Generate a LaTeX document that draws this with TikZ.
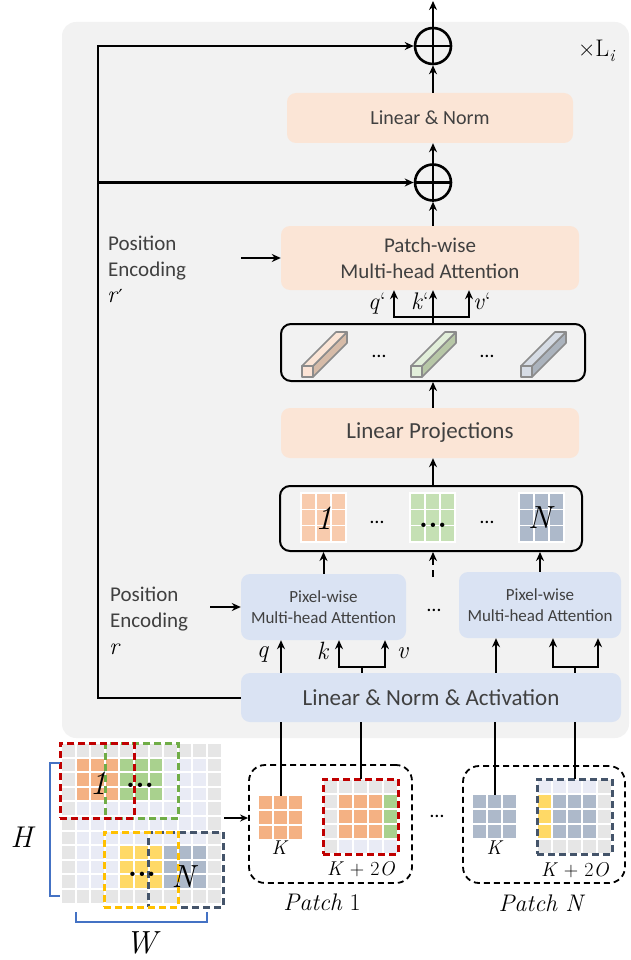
\documentclass[tikz,border=0pt]{standalone}
\usepackage{fontspec}
\newfontfamily\calibri{Carlito}
\newfontfamily\dejavu{DejaVu Serif}
\usetikzlibrary{arrows.meta,calc}
\definecolor{bgc}{HTML}{F2F2F2}
\definecolor{peachc}{HTML}{FBE5D6}
\definecolor{bluec}{HTML}{DAE3F3}
\definecolor{txtc}{HTML}{404040}
\definecolor{orgc}{HTML}{F4B183}
\definecolor{orgl}{HTML}{F8CBAD}
\definecolor{grnc}{HTML}{A9D18E}
\definecolor{grnl}{HTML}{C5E0B4}
\definecolor{bgrc}{HTML}{ADB9CA}
\definecolor{ylwc}{HTML}{FFD966}
\definecolor{gryc}{HTML}{E6E6E6}
\definecolor{lavc}{HTML}{E9EBF5}
\definecolor{redc}{HTML}{C00000}
\definecolor{grnd}{HTML}{70AD47}
\definecolor{ylwd}{HTML}{FFC000}
\definecolor{dbc}{HTML}{44546A}
\definecolor{brkc}{HTML}{4472C4}
\definecolor{tubeo}{HTML}{8C8C8C}
\definecolor{tpf}{HTML}{FCE4D6}
\definecolor{tps}{HTML}{D6BBA8}
\definecolor{tgf}{HTML}{E2EFDA}
\definecolor{tgs}{HTML}{B7C7A7}
\definecolor{tbf}{HTML}{D6DCE5}
\definecolor{tbs}{HTML}{ABB3BD}
\newcommand\fillcells[9]{%
  \foreach \cc in {#5,...,#6}{\foreach \rr in {#7,...,#8}{%
    \fill[#9] ({#1+\cc*#3},{#2+\rr*#3}) rectangle ++(#4,#4);}}}
\newcommand\smallgrid[3]{%
  \fill[white] (#1,#2) rectangle ++(47,51);
  \foreach \cc in {0,1,2}{\foreach \rr in {0,1,2}{%
    \fill[#3] ({#1+2+\cc*15},{#2+2+\rr*16}) rectangle ++(13,15);}}}
\newcommand\tube[4]{%
  \filldraw[fill=#4,draw=tubeo,line width=1.6pt,line join=round] ({#1+11},377) -- ({#1+45},343) -- ({#1+45},332) -- ({#1+11},366) -- cycle;
  \filldraw[fill=#3,draw=tubeo,line width=1.6pt,line join=round] (#1,366) -- ({#1+11},366) -- ({#1+45},332) -- ({#1+34},332) -- cycle;
  \filldraw[fill=#2,draw=tubeo,line width=1.6pt,line join=round] (#1,366) rectangle ({#1+11},377);}
\begin{document}
\begin{tikzpicture}[x=1pt,y=-1pt,
  pbox/.style={fill=peachc,text=txtc,rounded corners=9pt,inner sep=0pt,align=center},
  bbox/.style={fill=bluec,text=txtc,rounded corners=9pt,inner sep=0pt,align=center},
  frame/.style={draw=black,line width=2pt,rounded corners=10pt,inner sep=0pt},
  arr/.style={line width=2pt,-{Stealth[length=9pt,width=8pt]}},
  ln/.style={line width=2pt},
  oplus/.style={circle,draw,line width=2.6pt,minimum size=36pt,inner sep=0pt},
  pframe/.style={draw=black,line width=1.8pt,dash pattern=on 6pt off 4pt,rounded corners=16pt,inner sep=0pt},
  ghost/.style={inner sep=0pt,outer sep=0pt},
  dframe/.style={inner sep=0pt,outer sep=0pt,line width=3pt,dash pattern=on 7pt off 4pt},
  lab/.style={inner sep=0pt,anchor=base},
  petext/.style={inner sep=0pt,anchor=base west,text=txtc,font=\calibri\fontsize{21}{26}\selectfont},
  mlab/.style={inner sep=0pt,anchor=base west,font=\fontsize{24}{28}\selectfont},
]
\useasboundingbox (0,0) rectangle (630,960);
% background
\node[fill=bgc,rounded corners=14pt,minimum width=567pt,minimum height=716pt,inner sep=0pt] (bg) at (345.5,380) {};
\node[lab,anchor=base west,font=\fontsize{24}{28}\selectfont] (li) at (578,57) {×L\raisebox{-5pt}{\fontsize{17}{20}\selectfont\textit{i}}};
% oplus nodes
\node[oplus] (c1) at (433,46) {};
\node[oplus] (c2) at (433,182.5) {};
\draw[line width=2.6pt] (c1.north) -- (c1.south) (c1.west) -- (c1.east);
\draw[line width=2.6pt] (c2.north) -- (c2.south) (c2.west) -- (c2.east);
% boxes
\node[pbox,minimum width=286pt,minimum height=50pt,font=\calibri\fontsize{20}{24}\selectfont] (LN) at (430,118) {Linear \& Norm};
\node[pbox,minimum width=298pt,minimum height=64pt,font=\calibri\fontsize{21}{26}\selectfont] (PMHA) at (430,258) {Patch-wise\\Multi-head Attention};
\node[frame,minimum width=304pt,minimum height=57pt] (tube) at (433,352.5) {};
\node[pbox,minimum width=298pt,minimum height=50pt,font=\calibri\fontsize{23}{27}\selectfont] (LP) at (430,433) {Linear Projections};
\node[frame,minimum width=302pt,minimum height=65pt] (Num) at (431,518.5) {};
\node[bbox,minimum width=165pt,minimum height=66pt,font=\calibri\fontsize{17}{21}\selectfont] (PX1) at (323.5,607) {Pixel-wise\\Multi-head Attention};
\node[bbox,minimum width=162pt,minimum height=66pt,font=\calibri\fontsize{17}{21}\selectfont] (PX2) at (540,605) {Pixel-wise\\Multi-head Attention};
\node[bbox,minimum width=380pt,minimum height=49pt,font=\calibri\fontsize{23}{27}\selectfont] (LNA) at (431,697.5) {Linear \& Norm \& Activation};
% tubes
\tube{302}{tpf}{peachc}{tps}
\tube{411}{tgf}{tgf}{tgs}
\tube{521}{tbf}{tbf}{tbs}
\node[lab,font=\calibri\fontsize{20}{24}\selectfont] (td1) at (379,357) {…};
\node[lab,font=\calibri\fontsize{20}{24}\selectfont] (td2) at (487,357) {…};
% small grids in Num box
\smallgrid{300}{492}{orgl}
\smallgrid{409}{492}{grnl}
\smallgrid{518}{492}{bgrc}
\node[ghost,font=\fontsize{34}{38}\selectfont] (g1) at (323.5,518) {\textit{1}};
\node[lab,font=\fontsize{30}{34}\selectfont\bfseries] (g2) at (433,527) {...};
\node[ghost,font=\fontsize{32}{36}\selectfont] (g3) at (541.5,518) {\textit{N}};
\node[lab,font=\calibri\fontsize{20}{24}\selectfont] (nd1) at (377,523) {…};
\node[lab,font=\calibri\fontsize{20}{24}\selectfont] (nd2) at (487,523) {…};
\node[lab,font=\calibri\fontsize{20}{24}\selectfont] (pd) at (434,611) {…};
% position encodings
\node[petext] (pe1a) at (108,250) {Position};
\node[petext] (pe1b) at (108,276) {Encoding};
\node[mlab] (pe1c) at (107,302) {\textit{r}{\dejavu\fontsize{18}{20}\selectfont ′}};
\node[petext] (pe2a) at (110,601) {Position};
\node[petext] (pe2b) at (110,627) {Encoding};
\node[mlab] (pe2c) at (109,654) {\textit{r}};
\coordinate (pa1) at (241,258);
\coordinate (pa2) at (210,607);
\draw[arr] (pa1) -- (pa1 -| PMHA.west);
\draw[arr] (pa2) -- (pa2 -| PX1.west);
% main column arrows
\coordinate (out) at (433,1);
\draw[arr] (c1.north) -- (out);
\draw[arr] (LN.north -| c1) -- (c1.south);
\draw[arr] (c2.north) -- (LN.south -| c2);
\draw[arr] (PMHA.north -| c2) -- (c2.south);
\draw[arr] (LP.north -| c2) -- (tube.south -| c2);
\draw[arr] (Num.north -| c2) -- (LP.south -| c2);
% skip connection
\coordinate (sk) at (98,0);
\draw[arr] (LNA.west) -| (sk |- c1) -- (c1.west);
\draw[arr] (sk |- c2) -- (c2.west);
% q' k' v'
\coordinate (yfp) at (0,317);
\coordinate (xqp) at (394,0);
\coordinate (xvp) at (469,0);
\draw[ln] (tube.north -| c2) -- (c2 |- yfp);
\draw[arr] (c2 |- yfp) -- (c2 |- PMHA.south);
\draw[arr] (c2 |- yfp) -- (xqp |- yfp) -- (xqp |- PMHA.south);
\draw[arr] (c2 |- yfp) -- (xvp |- yfp) -- (xvp |- PMHA.south);
\node[lab,font=\fontsize{24}{26}\selectfont] (lq) at (377,309) {\textit{q}‘};
\node[lab,font=\fontsize{24}{26}\selectfont] (lk) at (420,309) {\textit{k}‘};
\node[lab,font=\fontsize{24}{26}\selectfont] (lv) at (482,309) {\textit{v}‘};
% into Num box
\draw[arr] (PX1.north) -- (Num.south -| PX1.north);
\draw[arr] (PX2.north) -- (Num.south -| PX2.north);
\coordinate (dd) at (433,577);
\draw[arr,dash pattern=on 7pt off 5pt] (dd) -- (dd |- Num.south);
% q k v lower
\coordinate (yf) at (0,667);
\coordinate (xq) at (281,0);
\coordinate (xf1) at (362,0);
\coordinate (xk) at (339,0);
\coordinate (xv) at (385,0);
\coordinate (xr1) at (496,0);
\coordinate (xf2) at (575,0);
\coordinate (xk2) at (553,0);
\coordinate (xv2) at (598,0);
\draw[arr] (LNA.north -| xq) -- (PX1.south -| xq);
\draw[ln] (LNA.north -| xf1) -- (xf1 |- yf);
\draw[arr] (xf1 |- yf) -- (xk |- yf) -- (PX1.south -| xk);
\draw[arr] (xf1 |- yf) -- (xv |- yf) -- (PX1.south -| xv);
\draw[arr] (LNA.north -| xr1) -- (PX2.south -| xr1);
\draw[ln] (LNA.north -| xf2) -- (xf2 |- yf);
\draw[arr] (xf2 |- yf) -- (xk2 |- yf) -- (PX2.south -| xk2);
\draw[arr] (xf2 |- yf) -- (xv2 |- yf) -- (PX2.south -| xv2);
\node[lab,font=\fontsize{25}{26}\selectfont] (lq2) at (263,657) {\textit{q}};
\node[lab,font=\fontsize{25}{26}\selectfont] (lk2) at (323,659) {\textit{k}};
\node[lab,font=\fontsize{25}{26}\selectfont] (lv2) at (403,658) {\textit{v}};
% patches
\node[pframe,minimum width=163pt,minimum height=118pt] (P1) at (330.5,824) {};
\node[pframe,minimum width=162pt,minimum height=117pt] (PN) at (544,824.5) {};
\fillcells{259}{796}{15}{13}{0}{2}{0}{2}{orgc}
\node[ghost,minimum width=43pt,minimum height=43pt] (K1) at (280.5,817.5) {};
\fillcells{324}{780}{15}{13}{0}{4}{0}{4}{gryc}
\fillcells{324}{780}{15}{13}{1}{4}{4}{4}{lavc}
\fillcells{324}{780}{15}{13}{1}{3}{1}{3}{orgc}
\fillcells{324}{780}{15}{13}{4}{4}{1}{3}{grnc}
\node[dframe,draw=redc,minimum width=75pt,minimum height=75pt] (K2O1) at (360.5,816.5) {};
\fillcells{473}{795}{15}{13}{0}{2}{0}{2}{bgrc}
\node[ghost,minimum width=43pt,minimum height=43pt] (KN) at (494.5,816.5) {};
\fillcells{538}{780}{15}{13}{0}{4}{0}{4}{gryc}
\fillcells{538}{780}{15}{13}{0}{3}{0}{0}{lavc}
\fillcells{538}{780}{15}{13}{0}{0}{1}{3}{ylwc}
\fillcells{538}{780}{15}{13}{1}{3}{1}{3}{bgrc}
\node[dframe,draw=dbc,minimum width=75pt,minimum height=75pt] (K2ON) at (574.5,816.5) {};
\draw[ln] (LNA.south -| K1.north) -- (K1.north);
\draw[ln] (LNA.south -| K2O1.north) -- (K2O1.north);
\draw[ln] (LNA.south -| KN.north) -- (KN.north);
\draw[ln] (LNA.south -| K2ON.north) -- (K2ON.north);
\node[lab,font=\fontsize{20}{22}\selectfont] (lK1) at (280,854) {\textit{K}};
\node[lab,font=\fontsize{20}{22}\selectfont] (lK2) at (361,875) {\textit{K} + 2\textit{O}};
\node[lab,font=\fontsize{20}{22}\selectfont] (lK3) at (495,854) {\textit{K}};
\node[lab,font=\fontsize{20}{22}\selectfont] (lK4) at (575,876) {\textit{K} + 2\textit{O}};
\node[lab,font=\fontsize{24}{28}\selectfont] (lp1) at (322,910) {\textit{Patch} 1};
\node[lab,font=\fontsize{24}{28}\selectfont] (lpn) at (542,911) {\textit{Patch N}};
\node[lab,font=\calibri\fontsize{20}{24}\selectfont] (bd) at (437,817) {…};
% big grid
\fillcells{62}{744}{14.6}{12.6}{0}{10}{0}{10}{gryc}
\fillcells{62}{744}{14.6}{12.6}{1}{9}{1}{9}{lavc}
\fillcells{62}{744}{14.6}{12.6}{1}{3}{1}{3}{orgc}
\fillcells{62}{744}{14.6}{12.6}{4}{6}{1}{3}{grnc}
\fillcells{62}{744}{14.6}{12.6}{4}{6}{7}{9}{ylwc}
\fillcells{62}{744}{14.6}{12.6}{7}{9}{7}{9}{bgrc}
\node[dframe,draw=grnd,minimum width=73pt,minimum height=75pt] (fg) at (141.5,780.5) {};
\node[dframe,draw=redc,minimum width=74pt,minimum height=75pt] (fr) at (97,780.5) {};
\node[dframe,draw=dbc,minimum width=75pt,minimum height=75pt] (fb) at (185.5,869.5) {};
\node[dframe,draw=ylwd,minimum width=74pt,minimum height=75pt] (fy) at (141,869.5) {};
\node[ghost,font=\fontsize{34}{38}\selectfont] (b1) at (98,783) {\textit{1}};
\node[lab,font=\fontsize{30}{34}\selectfont\bfseries] (b2) at (140,787) {...};
\node[lab,font=\fontsize{30}{34}\selectfont\bfseries] (b3) at (142,876) {...};
\node[ghost,font=\fontsize{32}{36}\selectfont] (b4) at (185,877) {\textit{N}};
\draw[brkc,line width=1.2pt] (60,763) -- (50,763) -- (50,896) -- (60,896);
\draw[brkc,line width=1.2pt] (76,912) -- (76,922) -- (207,922) -- (207,912);
\node[ghost,font=\fontsize{30}{34}\selectfont] (lH) at (23,837) {\textit{H}};
\node[ghost,font=\fontsize{32}{36}\selectfont] (lW) at (143,943) {\textit{W}};
\coordinate (ga) at (224,818);
\draw[line width=2pt,-{Stealth[length=8pt,width=7pt]}] (ga) -- (ga -| P1.west);
\end{tikzpicture}
\end{document}
